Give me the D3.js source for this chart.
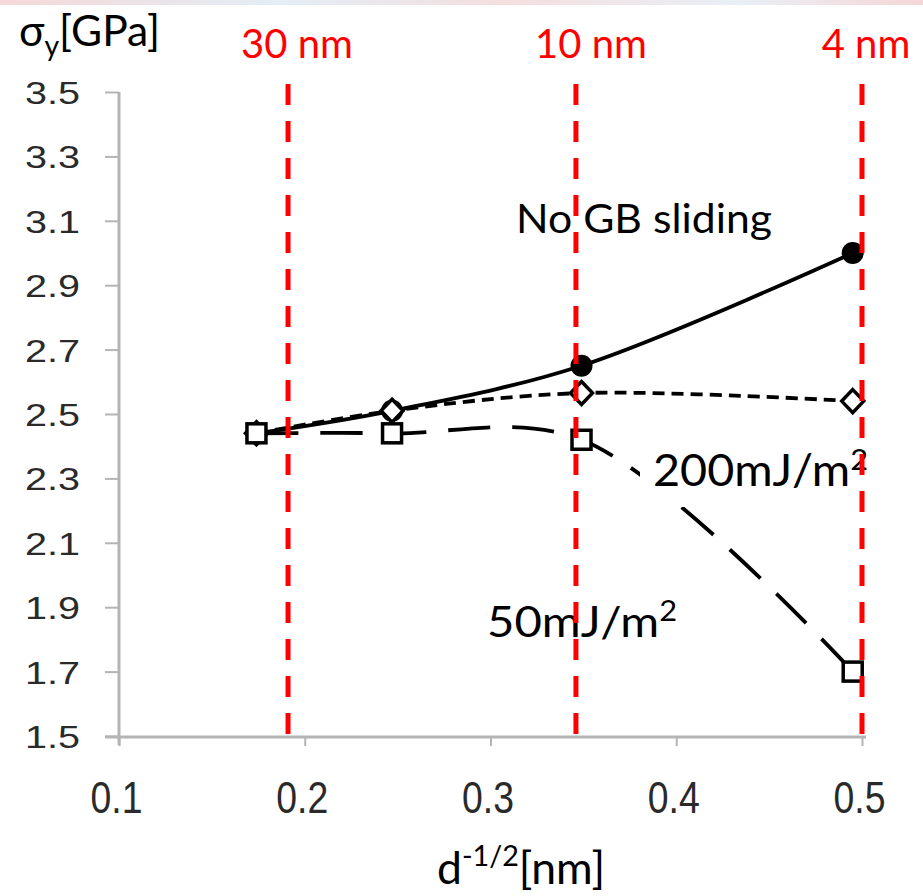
<!DOCTYPE html>
<html><head><meta charset="utf-8">
<script src="https://cdn.jsdelivr.net/npm/d3@7"></script>
<style>html,body{margin:0;padding:0;background:#fff;}svg{display:block;}</style>
</head><body>
<script>
// ---- data ----
const xValues = [0.174, 0.247, 0.349, 0.495];
const noSliding = [2.44, 2.51, 2.65, 3.00];
const gb200 = [2.44, 2.51, 2.565, 2.54];
const gb50 = [2.44, 2.44, 2.42, 1.70];
const yTicks = [1.5, 1.7, 1.9, 2.1, 2.3, 2.5, 2.7, 2.9, 3.1, 3.3, 3.5];
const xTicks = [0.1, 0.2, 0.3, 0.4, 0.5];
const grainLines = [0.191, 0.346, 0.5];
const grainLabels = ["30 nm", "10 nm", "4 nm"];

const W = 923, H = 896;
const svg = d3.select("body").append("svg").attr("width", W).attr("height", H);

// faint top strip
const grad = svg.append("defs").append("linearGradient").attr("id", "tg");
[["0%","#f3c6c6"],["30%","#d6e6f2"],["55%","#f0d0d0"],["80%","#dfe9f3"],["100%","#f2c4c4"]].forEach(([o,c]) =>
  grad.append("stop").attr("offset", o).attr("stop-color", c));
svg.append("rect").attr("x",0).attr("y",0).attr("width",W).attr("height",5).attr("fill","url(#tg)").attr("opacity",0.7);

const x = d3.scaleLinear().domain([0.1, 0.5]).range([119, 862]);
const y = d3.scaleLinear().domain([1.5, 3.5]).range([736, 92]);

// axes
const yAxis = svg.append("g").attr("transform", "translate(119,0)")
  .call(d3.axisLeft(y).tickValues(yTicks).tickSize(14).tickPadding(25).tickFormat(d3.format(".1f")));
const xAxis = svg.append("g").attr("transform", "translate(0,737)")
  .call(d3.axisBottom(x).tickValues(xTicks).tickSize(9).tickSizeOuter(0).tickPadding(40).tickFormat(d3.format(".1f")));
[yAxis, xAxis].forEach(g => {
  g.select(".domain").attr("stroke", "#b4b4b4").attr("stroke-width", 3);
  g.selectAll(".tick line").attr("stroke", "#b4b4b4").attr("stroke-width", 2);
  g.selectAll(".tick text").attr("fill", "#2a2a2a").attr("font-family", "Liberation Sans, Arial, sans-serif");
});
yAxis.select(".domain").attr("d", "M0,92V745");
xAxis.select(".domain").attr("d", "M105,0H866");
yAxis.selectAll(".tick text").attr("font-size", 32).attr("dy", "0.36em")
  .attr("textLength", 55).attr("lengthAdjust", "spacingAndGlyphs");
xAxis.selectAll(".tick text").attr("font-size", 44).attr("dy", null).attr("y", 76)
  .attr("x", -3).attr("textLength", 52).attr("lengthAdjust", "spacingAndGlyphs");

// series lines
const line = d3.line().x((d, i) => x(xValues[i])).y(d => y(d)).curve(d3.curveCatmullRom.alpha(0.5));
svg.append("path").datum(noSliding).attr("d", line).attr("fill", "none").attr("stroke", "#000").attr("stroke-width", 3.8);
svg.append("path").datum(gb200).attr("d", line).attr("fill", "none").attr("stroke", "#000").attr("stroke-width", 3.8).attr("stroke-dasharray", "12,7");
svg.append("path").datum(gb50).attr("d", line).attr("fill", "none").attr("stroke", "#000").attr("stroke-width", 3.8).attr("stroke-dasharray", "42,22");

// markers
svg.selectAll(".mc").data(noSliding).enter().append("circle")
  .attr("cx", (d, i) => x(xValues[i])).attr("cy", d => y(d)).attr("r", 11).attr("fill", "#000");
svg.selectAll(".md").data(gb200).enter().append("path")
  .attr("d", "M0,-11.5L11,0L0,11.5L-11,0Z")
  .attr("transform", (d, i) => `translate(${x(xValues[i])},${y(d)})`)
  .attr("fill", "#fff").attr("stroke", "#000").attr("stroke-width", 3.5);
svg.selectAll(".ms").data(gb50).enter().append("rect")
  .attr("x", (d, i) => x(xValues[i]) - 9.5).attr("y", d => y(d) - 9.5).attr("width", 19).attr("height", 19)
  .attr("fill", "#fff").attr("stroke", "#000").attr("stroke-width", 3.5);

// annotations
const calib = "Lato, 'Open Sans', sans-serif";
svg.append("text").attr("x", 516).attr("y", 233).attr("font-family", calib).attr("font-size", 41).attr("fill", "#000")
  .attr("textLength", 256).attr("lengthAdjust", "spacingAndGlyphs").text("No GB sliding");

svg.append("rect").attr("x", 640).attr("y", 447).attr("width", 240).attr("height", 60).attr("fill", "#fff");
const t200 = svg.append("text").attr("x", 653).attr("y", 486).attr("font-family", calib).attr("font-size", 44).attr("fill", "#000")
  .attr("textLength", 215).attr("lengthAdjust", "spacingAndGlyphs");
t200.append("tspan").text("200mJ/m");
t200.append("tspan").attr("font-size", 29).attr("dy", -16).text("2");

const t50 = svg.append("text").attr("x", 487).attr("y", 637).attr("font-family", calib).attr("font-size", 43).attr("fill", "#000")
  .attr("textLength", 190).attr("lengthAdjust", "spacingAndGlyphs");
t50.append("tspan").text("50mJ/m");
t50.append("tspan").attr("font-size", 28).attr("dy", -16).text("2");

// red grain-size lines
svg.selectAll(".gl").data(grainLines).enter().append("line")
  .attr("x1", d => x(d)).attr("x2", d => x(d)).attr("y1", 84).attr("y2", 748)
  .attr("stroke", "#ff0000").attr("stroke-width", 5).attr("stroke-dasharray", "21,16");
svg.selectAll(".glt").data(grainLabels).enter().append("text")
  .attr("x", (d, i) => x(grainLines[i]) + [9, 15, 4][i]).attr("y", 58).attr("text-anchor", "middle")
  .attr("font-family", calib).attr("font-size", 40).attr("fill", "#ff0000").text(d => d);

// axis titles
const yt = svg.append("text").attr("x", 19).attr("y", 46).attr("font-family", calib).attr("font-size", 42).attr("fill", "#000")
  .attr("textLength", 141).attr("lengthAdjust", "spacingAndGlyphs");
yt.append("tspan").text("σ");
yt.append("tspan").attr("font-size", 28).attr("dy", 10).text("y");
yt.append("tspan").attr("dy", -10).text("[GPa]");

const xt = svg.append("text").attr("x", 437).attr("y", 884).attr("font-family", calib).attr("font-size", 45).attr("fill", "#000")
  .attr("textLength", 168).attr("lengthAdjust", "spacingAndGlyphs");
xt.append("tspan").text("d");
xt.append("tspan").attr("font-size", 29).attr("dy", -18).text("-1/2");
xt.append("tspan").attr("dy", 18).text("[nm]");
</script>
</body></html>
